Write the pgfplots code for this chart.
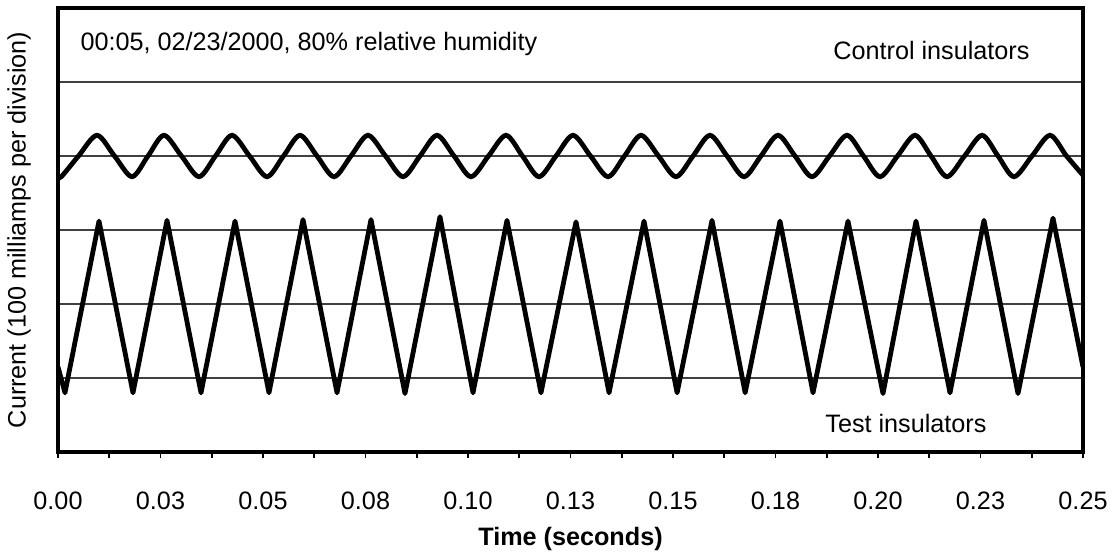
\documentclass[border=0pt]{standalone}
\usepackage{pgfplots}
\pgfplotsset{compat=1.18}
\usepackage{fontspec}
\setmainfont{Liberation Sans}
\begin{document}
\fontsize{12.6pt}{15pt}\selectfont
\begin{tikzpicture}
\begin{axis}[
  scale only axis,
  width=512.5pt, height=222pt,
  xmin=0, xmax=0.25, ymin=0, ymax=6,
  axis line style={line width=1.7pt},
  xtick={0,0.025,0.05,0.075,0.1,0.125,0.15,0.175,0.2,0.225,0.25},
  xticklabels={0.00,0.03,0.05,0.08,0.10,0.13,0.15,0.18,0.20,0.23,0.25},
  minor xtick={0.0125,0.0375,0.0625,0.0875,0.1125,0.1375,0.1625,0.1875,0.2125,0.2375},
  xtick pos=left,
  tick align=outside,
  major tick length=3.2pt, minor tick length=3.2pt,
  every tick/.style={black, line width=0.8pt},
  ytick={1,2,3,4,5}, yticklabels={}, ymajorgrids,
  ytick style={draw=none},
  grid style={black!75, line width=0.6pt},
  xticklabel style={font=\fontsize{12.6}{15}\selectfont, anchor=center, yshift=-21pt},
  /pgf/number format/assume math mode=true,
  every axis x label/.style={at={(axis description cs:0.5,-0.1955)}, anchor=center, font=\fontsize{12.6}{15}\selectfont\bfseries},
  every axis y label/.style={at={(axis description cs:-0.038,0.5)}, rotate=90, anchor=center, font=\fontsize{12.6}{15}\selectfont},
  xlabel={Time (seconds)},
  ylabel={Current (100 milliamps per division)},
]
% Control insulators
\addplot[black, line width=2.4pt, smooth, tension=0.5] coordinates {
(0,3.73) (0.0008,3.72) (0.0050,4.0) (0.00951,4.28) (0.01378,4.0) (0.01805,3.72)
(0.02195,4.0) (0.02585,4.28) (0.03012,4.0) (0.03439,3.72) (0.03841,4.0) (0.04244,4.28)
(0.04671,4.0) (0.05098,3.72) (0.05500,4.0) (0.05902,4.28) (0.06317,4.0) (0.06732,3.72)
(0.07146,4.0) (0.07561,4.28) (0.07988,4.0) (0.08415,3.72) (0.08829,4.0) (0.09244,4.28)
(0.09659,4.0) (0.10073,3.72) (0.10500,4.0) (0.10927,4.28) (0.11329,4.0) (0.11732,3.72)
(0.12146,4.0) (0.12561,4.28) (0.12988,4.0) (0.13415,3.72) (0.13817,4.0) (0.14220,4.28)
(0.14646,4.0) (0.15073,3.72) (0.15488,4.0) (0.15902,4.28) (0.16317,4.0) (0.16732,3.72)
(0.17146,4.0) (0.17561,4.28) (0.17976,4.0) (0.18390,3.72) (0.18817,4.0) (0.19244,4.28)
(0.19646,4.0) (0.20049,3.72) (0.20476,4.0) (0.20902,4.28) (0.21293,4.0) (0.21683,3.72)
(0.22110,4.0) (0.22537,4.28) (0.22927,4.0) (0.23317,3.72) (0.23756,4.0) (0.24195,4.28)
(0.24598,4.0) (0.25,3.74)
};
% Test insulators
\addplot[black, line width=2.4pt, line join=round] coordinates {
(0,1.15) (0.0017,0.80) (0.0100,3.12) (0.01829,0.80) (0.02659,3.13) (0.03488,0.80)
(0.04317,3.12) (0.05146,0.80) (0.05976,3.14) (0.06805,0.80) (0.07634,3.14) (0.08463,0.79)
(0.09317,3.18) (0.10122,0.80) (0.10951,3.13) (0.11780,0.80) (0.12634,3.11) (0.1344,0.80)
(0.14293,3.12) (0.1510,0.80) (0.15951,3.13) (0.1676,0.80) (0.17610,3.12) (0.18415,0.80)
(0.19268,3.12) (0.20122,0.79) (0.20927,3.12) (0.21756,0.80) (0.22585,3.13) (0.23415,0.79)
(0.24268,3.16) (0.25,1.15)
};
\node[anchor=west, inner sep=0pt, font=\fontsize{12.6}{15}\selectfont] at (axis cs:0.0054,5.52) {00:05, 02/23/2000, 80\% relative humidity};
\node[anchor=west, inner sep=0pt, font=\fontsize{12.6}{15}\selectfont] at (axis cs:0.18902,5.43) {Control insulators};
\node[anchor=west, inner sep=0pt, font=\fontsize{12.6}{15}\selectfont] at (axis cs:0.18707,0.39) {Test insulators};
\coordinate (SW) at (rel axis cs:0,0);
\coordinate (NE) at (rel axis cs:1,1);
\end{axis}
\pgfresetboundingbox
\path[use as bounding box] ([xshift=-29pt,yshift=-52pt]SW) rectangle ([xshift=15pt,yshift=4pt]NE);
\end{tikzpicture}
\end{document}
